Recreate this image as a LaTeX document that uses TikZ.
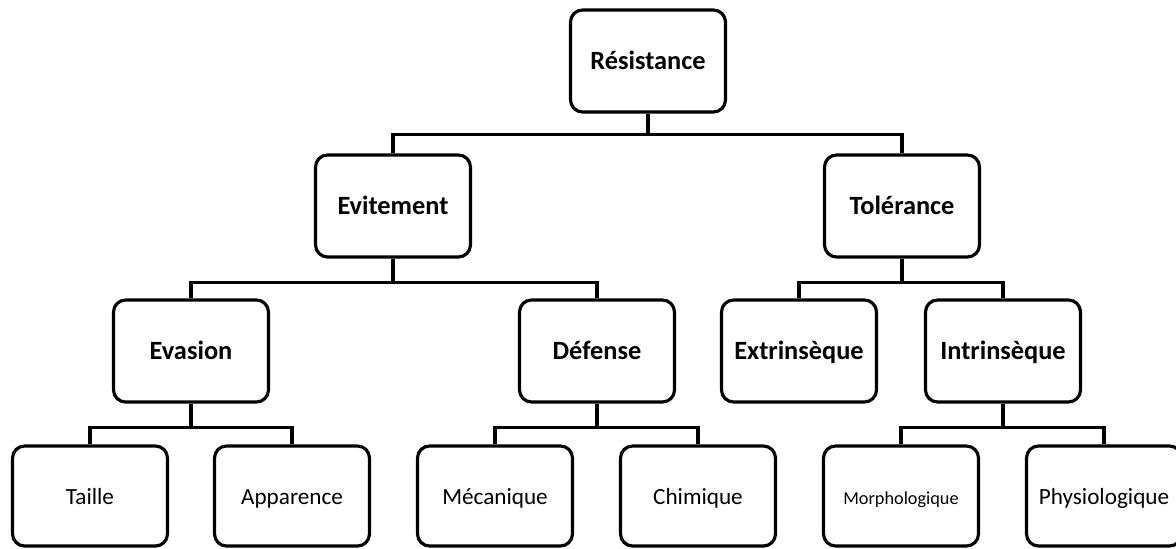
\documentclass[tikz,border=0pt]{standalone}
\usepackage{fontspec}
\setmainfont{Carlito}
\begin{document}
\begin{tikzpicture}[x=0.02cm,y=-0.02cm,line join=miter,
	box/.style={draw,line width=1.8pt,rounded corners=0.24cm,minimum width=3.1cm,minimum height=2.04cm,inner sep=0pt,text height=2ex,text depth=0pt,font=\bfseries\fontsize{15}{17}\selectfont},
	leaf/.style={box,minimum height=2cm,font=\fontsize{13.2}{15}\selectfont},
	link/.style={line width=1.8pt}]
	\useasboundingbox (0,0) rectangle (1176,548);
	\node[box] (res) at (648,61) {Résistance};
	\node[box] (evi) at (393,206) {Evitement};
	\node[box] (tol) at (902,206) {Tolérance};
	\node[box] (eva) at (191,351) {Evasion};
	\node[box] (def) at (597,351) {Défense};
	\node[box] (ext) at (799,351) {Extrinsèque};
	\node[box] (int) at (1003,351) {Intrinsèque};
	\node[leaf] (tai) at (90,496) {Taille};
	\node[leaf] (app) at (292,496) {Apparence};
	\node[leaf] (mec) at (495,496) {Mécanique};
	\node[leaf] (chi) at (698,496) {Chimique};
	\node[leaf,font=\fontsize{10.4}{12}\selectfont] (mor) at (901,496) {Morphologique};
	\node[leaf] (phy) at (1104,496) {Physiologique};
	\draw[link] (res.south) -- ++(0,21) -| (evi.north);
	\draw[link] (res.south) -- ++(0,21) -| (tol.north);
	\draw[link] (evi.south) -- ++(0,24) -| (eva.north);
	\draw[link] (evi.south) -- ++(0,24) -| (def.north);
	\draw[link] (tol.south) -- ++(0,24) -| (ext.north);
	\draw[link] (tol.south) -- ++(0,24) -| (int.north);
	\draw[link] (eva.south) -- ++(0,24) -| (tai.north);
	\draw[link] (eva.south) -- ++(0,24) -| (app.north);
	\draw[link] (def.south) -- ++(0,24) -| (mec.north);
	\draw[link] (def.south) -- ++(0,24) -| (chi.north);
	\draw[link] (int.south) -- ++(0,24) -| (mor.north);
	\draw[link] (int.south) -- ++(0,24) -| (phy.north);
\end{tikzpicture}
\end{document}
